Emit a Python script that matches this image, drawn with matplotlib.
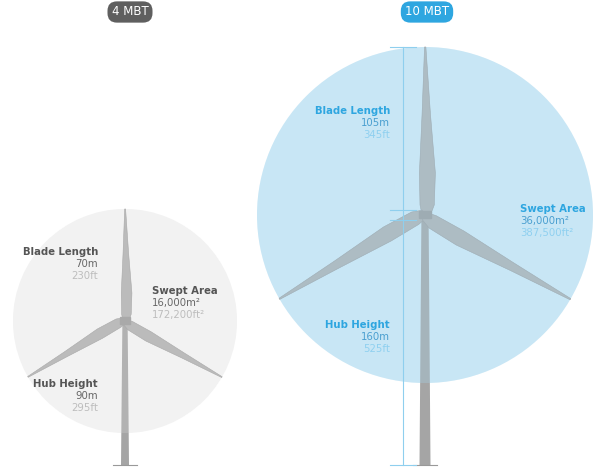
import numpy as np
import matplotlib
matplotlib.use("Agg")
import matplotlib.pyplot as plt
from matplotlib.patches import Circle, Polygon, Rectangle

# data
models = ["4 MBT", "10 MBT"]
blade_m = [70, 105]
blade_ft = ["230ft", "345ft"]
hub_m = [90, 160]
hub_ft = ["295ft", "525ft"]
area_m2 = ["16,000m²", "36,000m²"]
area_ft2 = ["172,200ft²", "387,500ft²"]

scale = 1.6  # px per metre
xs = [125, 425]
W, H = 600, 473
ground = 465

fig = plt.figure(figsize=(6, 4.73), dpi=100)
ax = fig.add_axes([0, 0, 1, 1])
ax.set_xlim(0, W)
ax.set_ylim(ground - H, ground)
ax.set_aspect("equal")
ax.axis("off")

styles = [
    dict(pill="#5f5f5f", circ="#f5f5f5", tint="#e8e8e8", a=0.2, head="#555555", val="#666666", ft="#bdbdbd"),
    dict(pill="#2ea6e0", circ="#d6edf8", tint="#a8d8f0", a=0.3, head="#2ea6e0", val="#4a9fd0", ft="#8fd0f0"),
]

def blade(cx, cy, L, ang):
    # tapered blade outline along direction ang
    s = np.array([0.0, 0.06, 0.25, 0.6, 1.0])
    w = np.array([0.05, 0.085, 0.095, 0.05, 0.008]) * L
    d = np.array([np.cos(ang), np.sin(ang)])
    nrm = np.array([-d[1], d[0]])
    side1 = [(cx, cy) + d * si * L + nrm * wi * 0.35 for si, wi in zip(s, w)]
    side2 = [(cx, cy) + d * si * L - nrm * wi * 0.65 for si, wi in zip(s, w)]
    return np.array(side1 + side2[::-1])

for i in range(2):
    st = styles[i]
    x = xs[i]
    L = blade_m[i] * scale
    hy = hub_m[i] * scale - 6 * i
    tw = 4 + 1.5 * i
    ax.add_patch(Circle((x, hy), L, color=st["circ"], lw=0, zorder=1))
    ax.add_patch(Polygon([(x - tw, 0), (x + tw, 0), (x + tw * 0.65, hy), (x - tw * 0.65, hy)],
                         color="#a5a5a5", lw=0, zorder=2))
    for a in (90, 210, 330):
        ax.add_patch(Polygon(blade(x, hy, L, np.radians(a)), color="#b0b0b0", ec="#999999",
                             lw=0.4, zorder=3))
    ax.add_patch(Rectangle((x - 5 - i, hy - 3), 10 + 2 * i, 7, color="#9a9a9a", zorder=4))
    ax.add_patch(Circle((x, hy), L, color=st["tint"], alpha=st["a"], lw=0, zorder=5))
    ax.plot([x - 12, x + 12], [0, 0], color="#999999", lw=0.8, zorder=4)

    ax.text(x + 5 - 3 * i, ground - 12, models[i], ha="center", va="center", fontsize=8.5,
            color="white", zorder=6,
            bbox=dict(boxstyle="round,pad=0.35,rounding_size=0.8", fc=st["pill"], ec="none"))

    fs = 7.3
    lx = x - 27 - 8 * i
    rx = x + 27 + 68 * i
    groups = [
        (lx, "right", hy + L * 0.62, "Blade Length", f"{blade_m[i]}m", blade_ft[i]),
        (rx, "left", hy + 30 - i * 24, "Swept Area", area_m2[i], area_ft2[i]),
        (lx, "right", hy * 0.56, "Hub Height", f"{hub_m[i]}m", hub_ft[i]),
    ]
    for gx, ha, gy, t1, t2, t3 in groups:
        ax.text(gx, gy, t1, ha=ha, va="center", fontsize=fs, color=st["head"],
                fontweight="bold", zorder=6)
        ax.text(gx, gy - 12, t2, ha=ha, va="center", fontsize=fs, color=st["val"], zorder=6)
        ax.text(gx, gy - 24, t3, ha=ha, va="center", fontsize=fs, color=st["ft"], zorder=6)

# dimension lines for the big turbine
x, L, hy = xs[1], blade_m[1] * scale, hub_m[1] * scale - 6
dc = "#8fcfee"
dx = x - 22
ax.plot([dx, dx], [0, hy + L], color=dc, lw=0.8, zorder=6)
for yy in (0, hy - 5, hy + 5, hy + L):
    ax.plot([dx - 13, dx + 13], [yy, yy], color=dc, lw=0.8, zorder=6)

fig.savefig("out.png", dpi=100, facecolor="white")
